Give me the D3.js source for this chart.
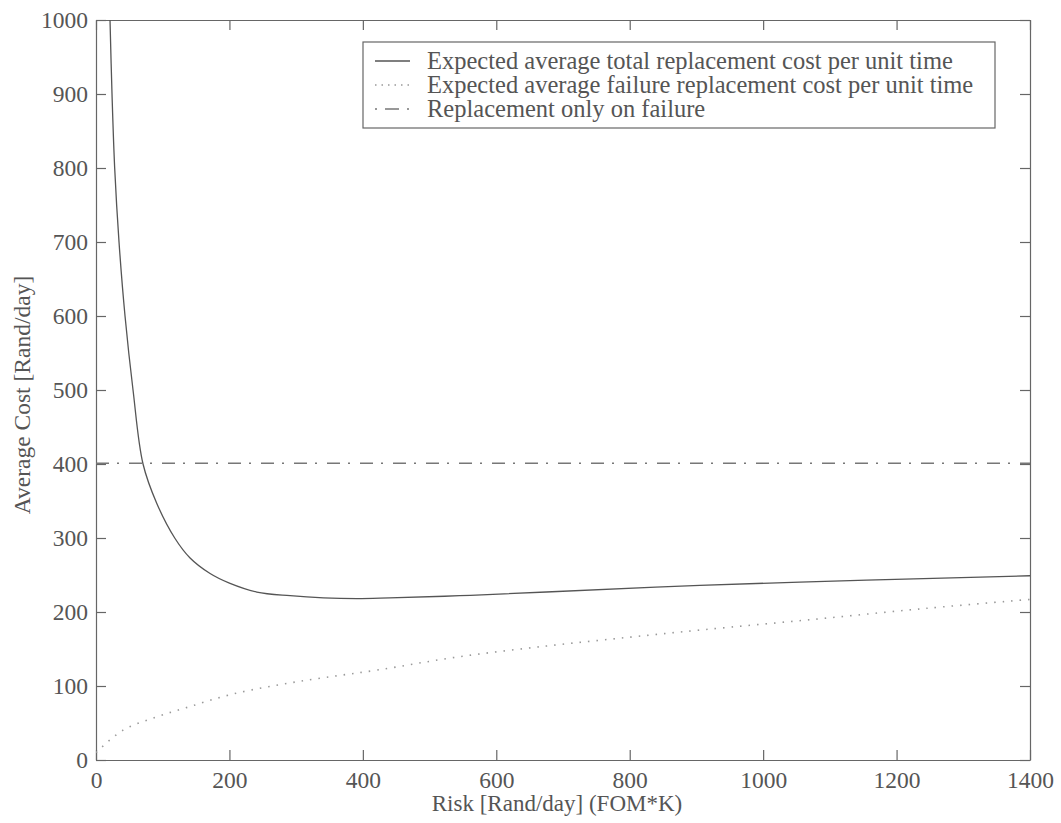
<!DOCTYPE html>
<html>
<head>
<meta charset="utf-8">
<script src="https://cdn.jsdelivr.net/npm/d3@7"></script>
<style>
  body { margin: 0; background: #fff; }
  svg text { font-family: 'Liberation Serif', 'Times New Roman', serif; fill: #555; }
  .axis path, .axis line { stroke: #666; stroke-width: 1.2; }
</style>
</head>
<body>
<div class="chart-container"></div>
<script>
// Data
const totalRisk = [21, 24, 28, 34.5, 43.5, 55.5, 70.5, 91, 118, 141, 171, 200, 241, 291, 341, 391, 440, 545, 675, 905, 1155, 1400];
const totalCost = [1000, 900, 800, 700, 600, 500, 400, 347, 300, 273, 252, 239, 227, 222, 219, 218, 219, 222, 227, 236, 243, 249];

const failureRisk = [0, 40, 90, 140, 200, 270, 340, 425, 540, 675, 800, 910, 1075, 1245, 1400];
const failureCost = [10, 40, 58, 72, 88, 101, 111, 122, 139, 154, 166, 176, 190, 205, 217];

const onlyFailureRisk = [0, 1400];
const onlyFailureCost = [401, 401];

const xTicks = [0, 200, 400, 600, 800, 1000, 1200, 1400];
const yTicks = [0, 100, 200, 300, 400, 500, 600, 700, 800, 900, 1000];

const legendLabels = [
    'Expected average total replacement cost per unit time',
    'Expected average failure replacement cost per unit time',
    'Replacement only on failure'
];

const serif = "'Liberation Serif', 'Times New Roman', serif";

// Margin Convention
const margin = { top: 20, right: 31, bottom: 63, left: 96 };
const width = 1061 - margin.left - margin.right;
const height = 823 - margin.top - margin.bottom;

const xScale = d3.scaleLinear().domain([0, 1400]).range([0, width]);
const yScale = d3.scaleLinear().domain([0, 1000]).range([height, 0]);

const svg = d3.select('.chart-container')
    .append('svg')
    .attr('width', width + margin.left + margin.right)
    .attr('height', height + margin.top + margin.bottom)
    .append('g')
    .attr('transform', `translate(${margin.left},${margin.top})`);

function styleTicks(g) {
    g.attr('font-family', serif);
    g.selectAll('text')
        .style('font-family', serif)
        .style('font-size', '23.5px')
        .style('fill', '#555');
}

// Axes (box with inward ticks on all sides)
svg.append('g')
    .attr('class', 'x axis')
    .attr('transform', `translate(0, ${height})`)
    .call(d3.axisBottom(xScale).tickValues(xTicks).tickFormat(d3.format('d'))
        .tickSizeInner(-10).tickSizeOuter(0).tickPadding(11))
    .call(styleTicks);

svg.append('g')
    .attr('class', 'x axis')
    .call(d3.axisTop(xScale).tickValues(xTicks).tickSizeInner(-10).tickSizeOuter(0).tickFormat(''));

svg.append('g')
    .attr('class', 'y axis')
    .call(d3.axisLeft(yScale).tickValues(yTicks).tickFormat(d3.format('d'))
        .tickSizeInner(-10).tickSizeOuter(0).tickPadding(8))
    .call(styleTicks);

svg.append('g')
    .attr('class', 'y axis')
    .attr('transform', `translate(${width}, 0)`)
    .call(d3.axisRight(yScale).tickValues(yTicks).tickSizeInner(-10).tickSizeOuter(0).tickFormat(''));

// Axis titles
svg.append('text')
    .attr('x', width / 2 - 6)
    .attr('y', height + 51)
    .attr('text-anchor', 'middle')
    .style('font-size', '23px')
    .text('Risk [Rand/day] (FOM*K)');

svg.append('text')
    .attr('transform', `translate(${30 - margin.left}, ${height / 2 + 5}) rotate(-90)`)
    .attr('text-anchor', 'middle')
    .style('font-size', '23.5px')
    .text('Average Cost [Rand/day]');

// Lines
svg.append('clipPath').attr('id', 'plot-clip')
    .append('rect').attr('width', width).attr('height', height);

const line = d3.line()
    .x(d => xScale(d[0]))
    .y(d => yScale(d[1]))
    .curve(d3.curveCatmullRom.alpha(0.5));

const styles = [
    { stroke: '#555', width: 1.3, dash: null },
    { stroke: '#999', width: 1.6, dash: '1.5,7' },
    { stroke: '#777', width: 1.4, dash: '13,8,2,10' }
];

const series = [
    d3.zip(totalRisk, totalCost),
    d3.zip(failureRisk, failureCost),
    d3.zip(onlyFailureRisk, onlyFailureCost)
];

svg.append('g')
    .attr('clip-path', 'url(#plot-clip)')
    .selectAll('path')
    .data(series)
    .enter()
    .append('path')
    .attr('d', d => line(d))
    .attr('fill', 'none')
    .attr('stroke', (d, i) => styles[i].stroke)
    .attr('stroke-width', (d, i) => styles[i].width)
    .attr('stroke-dasharray', (d, i) => styles[i].dash);

// Legend
const legend = svg.append('g')
    .attr('transform', `translate(${363 - margin.left}, ${42 - margin.top})`);

legend.append('rect')
    .attr('width', 632)
    .attr('height', 86)
    .attr('fill', '#fff')
    .attr('stroke', '#666')
    .attr('stroke-width', 1.2);

const rows = legend.selectAll('.legend-row')
    .data(legendLabels)
    .enter()
    .append('g')
    .attr('class', 'legend-row')
    .attr('transform', (d, i) => `translate(0, ${19 + i * 24})`);

rows.append('line')
    .attr('x1', 12).attr('x2', 47)
    .attr('stroke', (d, i) => styles[i].stroke)
    .attr('stroke-width', (d, i) => styles[i].width)
    .attr('stroke-dasharray', (d, i) => i === 1 ? '1.5,5' : i === 2 ? '2,8,14,8' : null);

rows.append('text')
    .attr('x', 64)
    .attr('dy', '0.33em')
    .style('font-size', '24.5px')
    .text(d => d);
</script>
</body>
</html>
